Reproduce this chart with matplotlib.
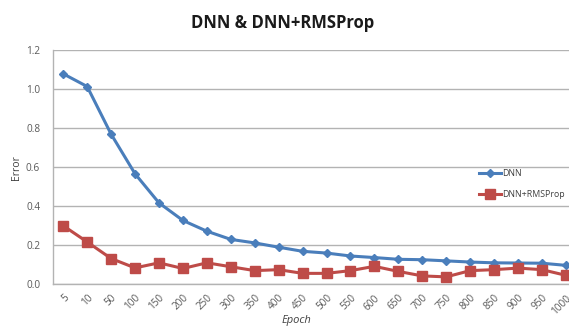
import matplotlib
matplotlib.use("Agg")
import matplotlib.pyplot as plt

epochs = ["5", "10", "50", "100", "150", "200", "250", "300", "350", "400", "450",
          "500", "550", "600", "650", "700", "750", "800", "850", "900", "950", "1000"]
dnn = [1.078, 1.013, 0.769, 0.566, 0.417, 0.327, 0.272, 0.230, 0.212, 0.190, 0.169,
       0.160, 0.145, 0.137, 0.128, 0.126, 0.120, 0.114, 0.110, 0.109, 0.108, 0.097]
dnn_rms = [0.300, 0.217, 0.132, 0.084, 0.110, 0.081, 0.110, 0.090, 0.070, 0.075, 0.056,
           0.056, 0.070, 0.092, 0.066, 0.043, 0.038, 0.070, 0.075, 0.083, 0.075, 0.046]

plt.rcParams['font.family'] = ['Open Sans', 'DejaVu Sans']

fig = plt.figure(figsize=(5.69, 3.28), dpi=100)
ax = fig.add_axes([52.7/569, 43.7/328, (569-52.7)/569, 234.3/328])

x = list(range(len(epochs)))
ax.plot(x, dnn, color="#4A7EBB", lw=2.2, marker="D", ms=4.5, label="DNN")
ax.plot(x, dnn_rms, color="#BE4B48", lw=2.2, marker="s", ms=6.5, label="DNN+RMSProp")

ax.set_ylim(0, 1.2)
ax.set_yticks([0, 0.2, 0.4, 0.6, 0.8, 1.0, 1.2])
ax.set_yticklabels(["0.0", "0.2", "0.4", "0.6", "0.8", "1.0", "1.2"])
ax.set_xlim(-0.44, 21.13)
ax.set_xticks(x)
ax.set_xticklabels(epochs, rotation=45, ha="right", rotation_mode="anchor")
ax.tick_params(axis="y", labelsize=7.2, colors="#595959", length=0, pad=9)
ax.tick_params(axis="x", labelsize=7.2, colors="#595959", length=0, pad=6)

ax.grid(axis="y", color="#B3B3B3", lw=1)
ax.set_axisbelow(True)
for s in ["top", "right"]:
    ax.spines[s].set_visible(False)
for s in ["left", "bottom"]:
    ax.spines[s].set_color("#B3B3B3")
    ax.spines[s].set_linewidth(1)

ax.set_ylabel("Error", fontsize=7.5, color="#404040", labelpad=3)
fig.text(296/569, 1 - 320/328, "Epoch", ha="center", va="center",
         fontsize=8, color="#404040", style="italic")
fig.text(0.497, 0.93, "DNN & DNN+RMSProp", ha="center", va="center",
         fontsize=12, fontweight="bold", color="#1a1a1a")

ax.legend(loc="upper left", bbox_to_anchor=(0.818, 0.505), frameon=False,
          fontsize=6.3, handlelength=2.6, labelspacing=1.3, handletextpad=0.15,
          borderaxespad=0, labelcolor="#404040")

fig.savefig("out.png", dpi=100)
